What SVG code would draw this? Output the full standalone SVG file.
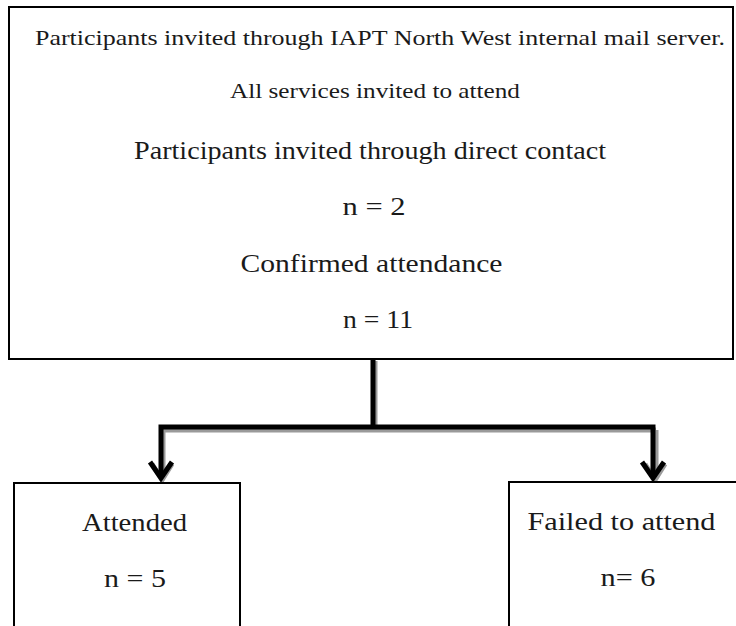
<svg xmlns="http://www.w3.org/2000/svg" width="736" height="626" viewBox="0 0 736 626">
  <style>
    .box { fill: #ffffff; stroke: #000000; stroke-width: 2; }
    .t { font-family: "Liberation Serif", "DejaVu Serif", serif; fill: #1a1a1a; text-anchor: middle; }
    .s { font-size: 21px; }
    .m { font-size: 25px; }
    .wire { fill: none; stroke: #000000; stroke-width: 5; }
    .shade { fill: none; stroke: #9a9a9a; stroke-width: 5; }
    .head { fill: none; stroke: #000000; stroke-width: 5; }
    .headshade { fill: none; stroke: #9a9a9a; stroke-width: 5; }
  </style>

  <rect width="736" height="626" fill="#ffffff"/>

  <g id="invitation">
    <rect class="box" x="9" y="7" width="724" height="352"/>
    <text class="t s" x="380" y="45" textLength="690" lengthAdjust="spacingAndGlyphs">Participants invited through IAPT North West internal mail server.</text>
    <text class="t s" x="375" y="98" textLength="290" lengthAdjust="spacingAndGlyphs">All services invited to attend</text>
    <text class="t m" x="370" y="159" textLength="472" lengthAdjust="spacingAndGlyphs">Participants invited through direct contact</text>
    <text class="t m" x="374" y="215" textLength="63" lengthAdjust="spacingAndGlyphs">n = 2</text>
    <text class="t m" x="371.5" y="272" textLength="262" lengthAdjust="spacingAndGlyphs">Confirmed attendance</text>
    <text class="t m" x="378" y="328" textLength="70" lengthAdjust="spacingAndGlyphs">n = 11</text>
  </g>

  <g id="connectors">
    <!-- drop shadows -->
    <path class="shade" d="M375 361 V430 M163 430 H656 M163 430 V478 M656 430 V478"/>
    <path class="headshade" d="M152 464 L162 480 L172 464 M645 464 L655 480 L665 464"/>
    <!-- trunk and branches -->
    <path class="wire" d="M373 359 V427 M158.5 427 H655.5 M161 425 V477 M653 425 V477"/>
    <path class="head" d="M150 462 L161 478 L172 462 M642 462 L653 478 L664 462"/>
  </g>

  <g id="attended">
    <rect class="box" x="14" y="483" width="226" height="160"/>
    <text class="t m" x="134.5" y="531" textLength="105" lengthAdjust="spacingAndGlyphs">Attended</text>
    <text class="t m" x="135" y="587" textLength="62" lengthAdjust="spacingAndGlyphs">n = 5</text>
  </g>

  <g id="failed">
    <rect class="box" x="509" y="482" width="240" height="160"/>
    <text class="t m" x="621.5" y="530" textLength="188" lengthAdjust="spacingAndGlyphs">Failed to attend</text>
    <text class="t m" x="628" y="586" textLength="55" lengthAdjust="spacingAndGlyphs">n= 6</text>
  </g>
</svg>
